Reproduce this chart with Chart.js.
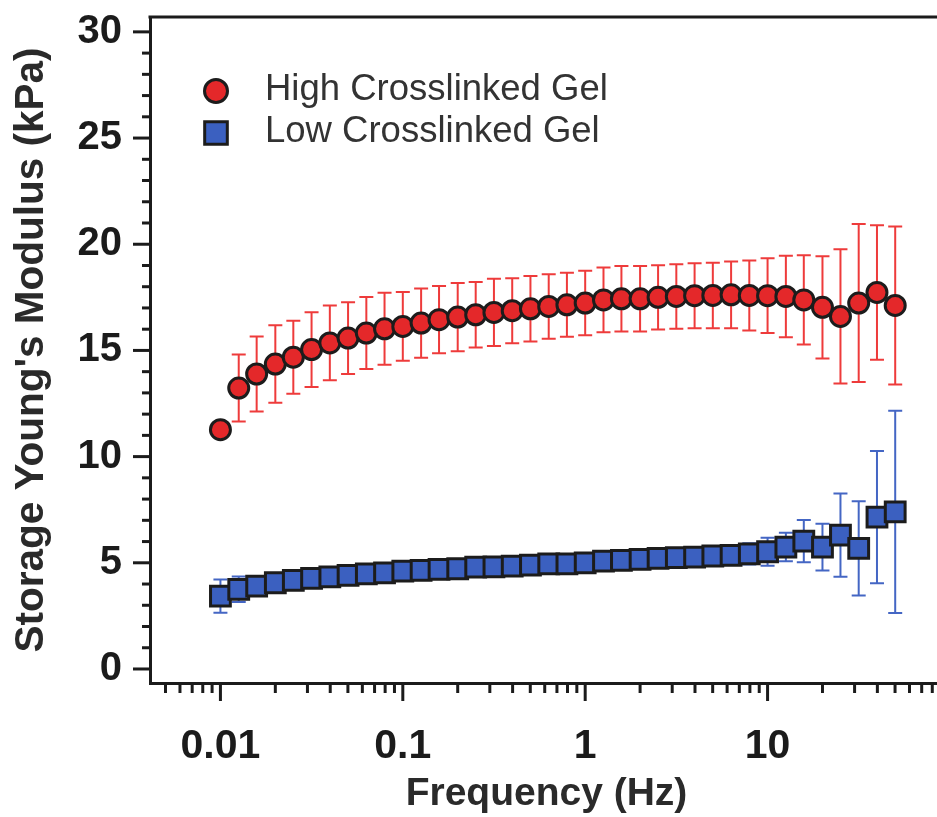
<!DOCTYPE html>
<html>
<head>
<meta charset="utf-8">
<script src="https://cdn.jsdelivr.net/npm/chart.js@4.4.1/dist/chart.umd.min.js"></script>
<style>
  html, body { margin: 0; padding: 0; background: #ffffff; overflow: hidden; }
  #wrap { width: 937px; height: 817px; overflow: hidden; position: relative; }
  #box { position: absolute; left: 0; top: 0; width: 960px; height: 817px; }
</style>
</head>
<body>
<div id="wrap"><div id="box"><canvas id="c"></canvas></div></div>
<script>
// Oscillatory frequency sweep (Hz), 10 points per decade
const frequencyHz = [
  0.01, 0.0126, 0.0158, 0.02, 0.0251, 0.0316, 0.0398, 0.0501, 0.0631, 0.0794,
  0.1, 0.126, 0.158, 0.2, 0.251, 0.316, 0.398, 0.501, 0.631, 0.794,
  1, 1.26, 1.58, 2, 2.51, 3.16, 3.98, 5.01, 6.31, 7.94,
  10, 12.6, 15.8, 20, 25.1, 31.6, 39.8, 50.1
];

// Storage Young's modulus (kPa), mean and standard deviation
const highModulus = [
  11.27, 13.23, 13.89, 14.36, 14.68, 15.04, 15.35, 15.58, 15.82, 16.02,
  16.13, 16.29, 16.45, 16.57, 16.68, 16.79, 16.87, 16.96, 17.07, 17.15,
  17.23, 17.38, 17.43, 17.43, 17.50, 17.54, 17.58, 17.59, 17.62, 17.59,
  17.58, 17.54, 17.38, 17.03, 16.60, 17.23, 17.73, 17.12
];
const highSD = [
  0.30, 1.58, 1.76, 1.82, 1.72, 1.76, 1.76, 1.69, 1.70, 1.69,
  1.62, 1.63, 1.58, 1.61, 1.54, 1.58, 1.53, 1.54, 1.52, 1.51,
  1.52, 1.53, 1.54, 1.54, 1.51, 1.52, 1.53, 1.54, 1.57, 1.65,
  1.76, 1.92, 2.10, 2.41, 3.16, 3.72, 3.17, 3.72
];
const lowModulus = [
  3.43, 3.75, 3.90, 4.06, 4.17, 4.27, 4.34, 4.41, 4.48, 4.53,
  4.61, 4.64, 4.69, 4.72, 4.80, 4.81, 4.84, 4.89, 4.95, 4.95,
  5.00, 5.08, 5.11, 5.16, 5.21, 5.24, 5.27, 5.32, 5.35, 5.42,
  5.52, 5.74, 6.02, 5.74, 6.30, 5.68, 7.15, 7.40
];
const lowSD = [
  0.78, 0.60, 0.45, 0.45, 0.45, 0.45, 0.45, 0.45, 0.45, 0.45,
  0.45, 0.45, 0.45, 0.45, 0.45, 0.45, 0.45, 0.45, 0.45, 0.45,
  0.45, 0.45, 0.45, 0.45, 0.45, 0.45, 0.45, 0.45, 0.45, 0.50,
  0.66, 0.67, 0.99, 1.10, 1.96, 2.22, 3.11, 4.76
];

const seriesNames = ['High Crosslinked Gel', 'Low Crosslinked Gel'];
const xTickLabels = [0.01, 0.1, 1, 10];
const yTickLabels = [0, 5, 10, 15, 20, 25, 30];

const FONT = '"Liberation Sans", Arial, Helvetica, sans-serif';
const INK = '#1b1b1b';

function toPoints(xs, ys) {
  return xs.map((x, i) => ({ x: x, y: ys[i] }));
}

// Vertical error bars with caps, drawn beneath the markers
const errorBarPlugin = {
  id: 'errorBars',
  beforeDatasetsDraw(chart) {
    const ctx = chart.ctx;
    const xs = chart.scales.x, ys = chart.scales.y;
    ctx.save();
    chart.data.datasets.forEach((ds) => {
      const sd = ds.sd;
      if (!sd) return;
      ctx.strokeStyle = ds.errorColor;
      ctx.lineWidth = 2;
      ds.data.forEach((p, i) => {
        const px = xs.getPixelForValue(p.x);
        const yt = ys.getPixelForValue(p.y + sd[i]);
        const yb = ys.getPixelForValue(p.y - sd[i]);
        ctx.beginPath();
        ctx.moveTo(px, yt); ctx.lineTo(px, yb);
        ctx.moveTo(px - 7, yt); ctx.lineTo(px + 7, yt);
        ctx.moveTo(px - 7, yb); ctx.lineTo(px + 7, yb);
        ctx.stroke();
      });
    });
    ctx.restore();
  }
};

// Outward tick marks (major and minor) and the top frame line
const frameTicksPlugin = {
  id: 'frameTicks',
  afterDraw(chart) {
    const ctx = chart.ctx;
    const a = chart.chartArea;
    const xs = chart.scales.x, ys = chart.scales.y;
    ctx.save();
    ctx.strokeStyle = INK;
    ctx.lineCap = 'butt';
    ctx.lineWidth = 3;
    ctx.beginPath();
    ctx.moveTo(a.left - 1.5, a.top);
    ctx.lineTo(a.right, a.top);
    ctx.stroke();
    const xmin = xs.min, xmax = xs.max;
    for (let e = -3; e <= 2; e++) {
      for (let m = 1; m <= 9; m++) {
        const v = m * Math.pow(10, e);
        if (v < xmin || v > xmax) continue;
        const px = xs.getPixelForValue(v);
        const len = m === 1 ? 18 : 10;
        ctx.beginPath();
        ctx.moveTo(px, a.bottom);
        ctx.lineTo(px, a.bottom + len);
        ctx.stroke();
      }
    }
    for (let v = 0; v <= 30; v++) {
      const py = ys.getPixelForValue(v);
      const len = v % 5 === 0 ? 17 : 8;
      ctx.beginPath();
      ctx.moveTo(a.left - len, py);
      ctx.lineTo(a.left, py);
      ctx.stroke();
    }
    ctx.restore();
  }
};

// Legend in the upper-left corner of the plot area
const insetLegendPlugin = {
  id: 'insetLegend',
  afterDraw(chart) {
    const ctx = chart.ctx;
    const a = chart.chartArea;
    ctx.save();
    chart.data.datasets.forEach((ds, i) => {
      const mx = a.left + 66;
      const my = a.top + 74 + i * 42;
      const opts = {
        pointStyle: ds.pointStyle,
        radius: ds.pointStyle === 'rect' ? 16 : 11.5,
        rotation: 0,
        borderWidth: 3
      };
      ctx.fillStyle = ds.backgroundColor;
      ctx.strokeStyle = ds.borderColor;
      ctx.lineWidth = 3;
      Chart.helpers.drawPoint(ctx, opts, mx, my);
      ctx.fillStyle = '#333333';
      ctx.font = '36.5px ' + FONT;
      ctx.textAlign = 'left';
      ctx.textBaseline = 'middle';
      ctx.fillText(ds.label, a.left + 115, my - 1);
    });
    ctx.restore();
  }
};

new Chart(document.getElementById('c'), {
  type: 'scatter',
  data: {
    datasets: [
      {
        label: seriesNames[0],
        data: toPoints(frequencyHz, highModulus),
        sd: highSD,
        errorColor: '#ee3b3b',
        pointStyle: 'circle',
        pointRadius: 10,
        backgroundColor: '#e4282a',
        borderColor: '#1c1c1c',
        borderWidth: 3,
        showLine: false
      },
      {
        label: seriesNames[1],
        data: toPoints(frequencyHz, lowModulus),
        sd: lowSD,
        errorColor: '#4466c4',
        pointStyle: 'rect',
        pointRadius: 14,
        backgroundColor: '#3b60c0',
        borderColor: '#1c1c1c',
        borderWidth: 3,
        showLine: false
      }
    ]
  },
  options: {
    responsive: true,
    maintainAspectRatio: false,
    animation: false,
    events: [],
    layout: { padding: { top: 15, right: 10, left: 0, bottom: 0 } },
    plugins: { legend: { display: false }, tooltip: { enabled: false } },
    scales: {
      x: {
        type: 'logarithmic',
        min: 0.00411,
        max: 91.6,
        afterBuildTicks(scale) { scale.ticks = xTickLabels.map(v => ({ value: v })); },
        afterFit(scale) { scale.height = 134; scale.paddingLeft = 0; scale.paddingRight = 0; },
        grid: { display: false, drawTicks: false },
        border: { display: true, width: 3, color: INK },
        ticks: {
          autoSkip: false, maxRotation: 0, padding: 39,
          color: INK,
          font: { family: FONT, size: 41, weight: 'bold' },
          callback: (v) => String(v)
        },
        title: {
          display: true, text: 'Frequency (Hz)', color: '#2a2a2a',
          font: { family: FONT, size: 39, weight: 'bold', lineHeight: 1 },
          padding: { top: 0, bottom: 3 }
        }
      },
      y: {
        min: -0.66,
        max: 30.7,
        afterBuildTicks(scale) { scale.ticks = yTickLabels.map(v => ({ value: v })); },
        afterFit(scale) { scale.width = 150; scale.paddingTop = 0; scale.paddingBottom = 0; },
        grid: { display: false, drawTicks: false },
        border: { display: true, width: 3, color: INK },
        ticks: {
          padding: 28, color: INK,
          font: { family: FONT, size: 40, weight: 'bold' },
          callback: (v) => String(v)
        },
        title: {
          display: true, text: "Storage Young's Modulus (kPa)", color: '#2a2a2a',
          font: { family: FONT, size: 40.5, weight: 'bold', lineHeight: 1 },
          padding: { top: 12, bottom: 0 }
        }
      }
    }
  },
  plugins: [errorBarPlugin, frameTicksPlugin, insetLegendPlugin]
});
</script>
</body>
</html>
